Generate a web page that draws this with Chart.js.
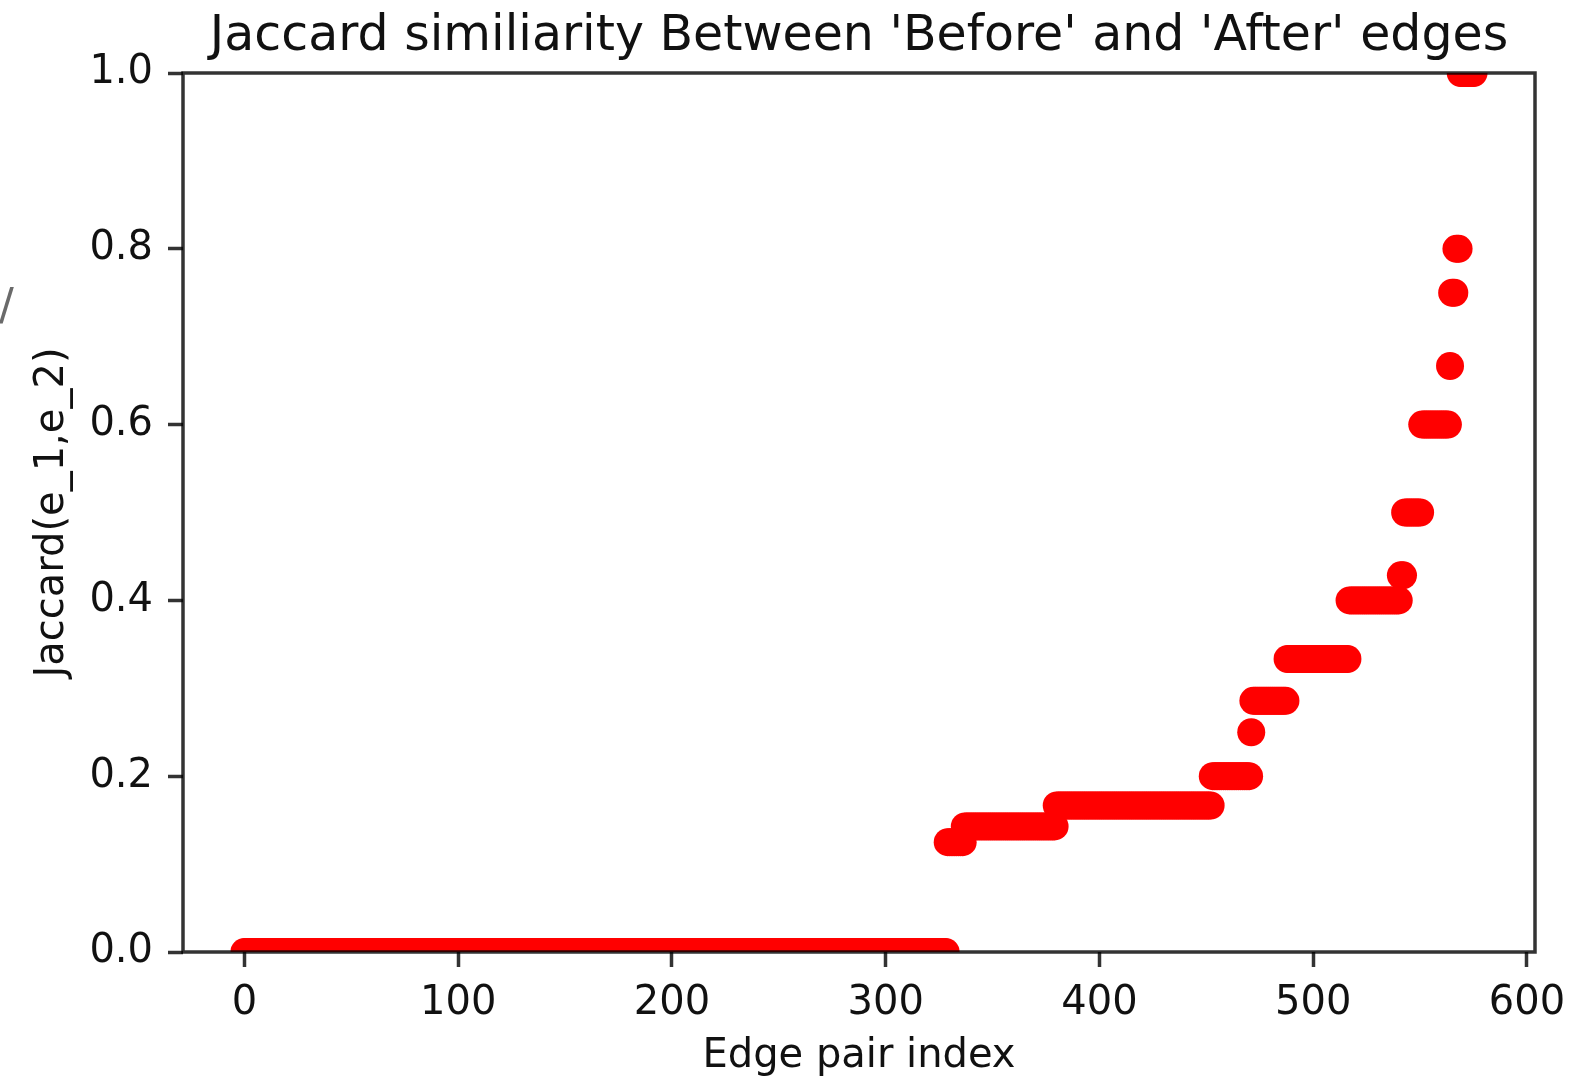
<!DOCTYPE html>
<html>
<head>
<meta charset="utf-8">
<script src="https://cdn.jsdelivr.net/npm/chart.js@4"></script>
<style>
  html, body { margin: 0; padding: 0; background: #ffffff; }
  canvas { display: block; }
</style>
</head>
<body>
<canvas id="chart" width="1593" height="1077"></canvas>
<script>
// Sorted Jaccard similarity of every edge pair, stored as runs of equal values
const jaccardLevels = [0, 0.125, 0.142857, 0.166667, 0.2, 0.25, 0.285714, 0.333333,
                       0.4, 0.428571, 0.5, 0.6, 0.666667, 0.75, 0.8, 1.0];
const levelCounts   = [329, 8, 43, 73, 18, 1, 16, 29, 24, 2, 8, 13, 1, 2, 2, 7];

const xTickValues = [0, 100, 200, 300, 400, 500, 600];
const yTickValues = [0, 0.2, 0.4, 0.6, 0.8, 1.0];
const xRange = [-28.75, 603.75];
const yRange = [0, 1];

const titleText = "Jaccard similiarity Between 'Before' and 'After' edges";
const xLabel = 'Edge pair index';
const yLabel = 'Jaccard(e_1,e_2)';

// expand the runs into one point per edge pair index
const points = [];
jaccardLevels.forEach((v, k) => {
  for (let n = 0; n < levelCounts[k]; n++) points.push({ x: points.length, y: v });
});

const FONT = 'DejaVu Sans';
const AXIS_COLOR = 'rgba(0,0,0,0.8)';
const TEXT_COLOR = '#111111';

// box around the plotting area, drawn over the markers
const framePlugin = {
  id: 'frame',
  afterDatasetsDraw(chart) {
    const { ctx, chartArea: a } = chart;
    ctx.save();
    ctx.strokeStyle = AXIS_COLOR;
    ctx.lineWidth = 3.5;
    ctx.strokeRect(a.left, a.top, a.right - a.left, a.bottom - a.top);
    ctx.restore();
  },
  afterDraw(chart) {
    const { ctx } = chart;
    ctx.save();
    ctx.fillStyle = '#6a6a6a';
    ctx.font = '44px ' + FONT;
    ctx.textBaseline = 'alphabetic';
    ctx.fillText('/', -1, 320);
    ctx.restore();
  }
};

const tickGrid = {
  display: true,
  drawOnChartArea: false,
  drawTicks: true,
  tickLength: 15,
  tickWidth: 3.5,
  tickColor: AXIS_COLOR,
  color: AXIS_COLOR
};

new Chart(document.getElementById('chart'), {
  type: 'scatter',
  data: {
    datasets: [{
      data: points,
      backgroundColor: '#ff0000',
      borderWidth: 0,
      pointRadius: 14,
      pointHoverRadius: 14,
      clip: 0
    }]
  },
  options: {
    responsive: false,
    animation: false,
    events: [],
    layout: { padding: { left: 0, right: 58, top: 0, bottom: 0 } },
    plugins: {
      legend: { display: false },
      tooltip: { enabled: false },
      title: {
        display: true,
        text: titleText,
        fullSize: false,
        color: TEXT_COLOR,
        font: { family: FONT, size: 49, weight: 'normal', lineHeight: 1.2 },
        padding: { top: 8, bottom: 6.2 }
      }
    },
    scales: {
      x: {
        type: 'linear',
        min: xRange[0],
        max: xRange[1],
        grid: tickGrid,
        border: { display: false },
        afterBuildTicks(scale) { scale.ticks = xTickValues.map(v => ({ value: v })); },
        afterFit(scale) { scale.height = 125; },
        ticks: {
          color: TEXT_COLOR,
          padding: 13,
          maxRotation: 0,
          font: { family: FONT, size: 40, lineHeight: 1.2 },
          callback: v => String(v)
        },
        title: {
          display: true,
          text: xLabel,
          color: TEXT_COLOR,
          font: { family: FONT, size: 40, lineHeight: 1.2 },
          padding: { top: 0, bottom: -4 }
        }
      },
      y: {
        type: 'linear',
        min: yRange[0],
        max: yRange[1],
        grid: tickGrid,
        border: { display: false },
        afterBuildTicks(scale) { scale.ticks = yTickValues.map(v => ({ value: v })); },
        afterFit(scale) { scale.width = 183; },
        ticks: {
          color: TEXT_COLOR,
          padding: 15,
          font: { family: FONT, size: 40, lineHeight: 1.2 },
          callback: v => Number(v).toFixed(1)
        },
        title: {
          display: true,
          text: yLabel,
          color: TEXT_COLOR,
          font: { family: FONT, size: 40, lineHeight: 1.2 },
          padding: { top: 29, bottom: 0 }
        }
      }
    }
  },
  plugins: [framePlugin]
});
</script>
</body>
</html>
